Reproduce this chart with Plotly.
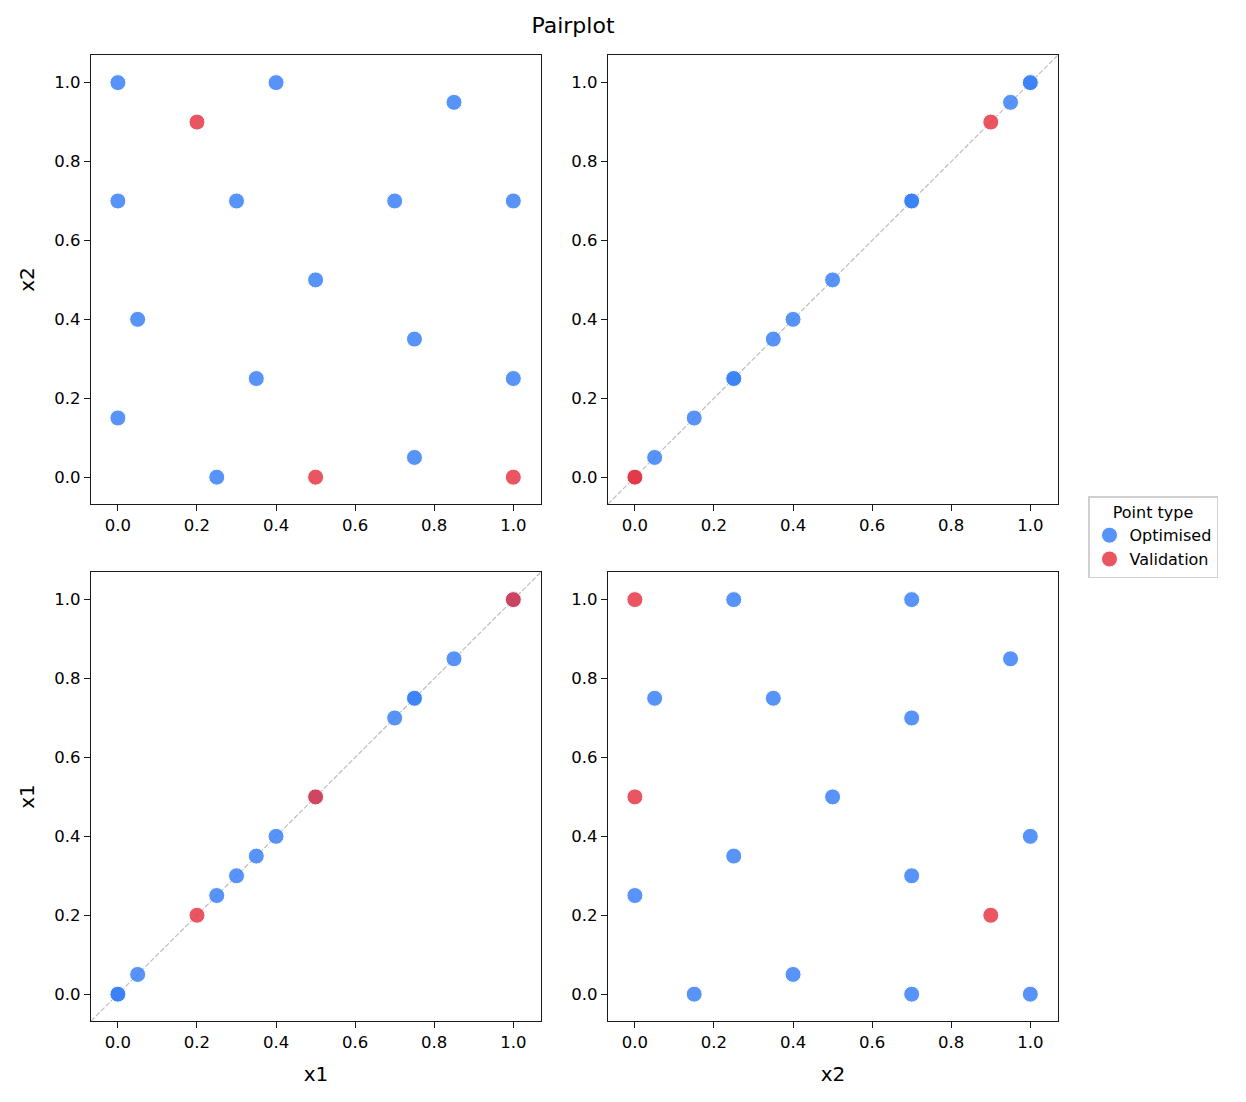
import plotly.graph_objects as go

# Data
opt_x1 = [0.0, 0.4, 0.85, 0.0, 0.3, 0.7, 1.0, 0.5, 0.05, 0.75, 0.35, 1.0, 0.0, 0.25, 0.75]
opt_x2 = [1.0, 1.0, 0.95, 0.7, 0.7, 0.7, 0.7, 0.5, 0.4, 0.35, 0.25, 0.25, 0.15, 0.0, 0.05]
val_x1 = [0.2, 0.5, 1.0]
val_x2 = [0.9, 0.0, 0.0]
tick_vals = [0.0, 0.2, 0.4, 0.6, 0.8, 1.0]

BLUE = "#3b82f6"
RED = "#e63946"
RNG = [-0.068, 1.07]
W, H = 1246, 1102
FONT = "DejaVu Sans"

def dom(a, b, total):
    return [a / total, b / total]

xd = [dom(91, 541, W), dom(608, 1058, W)]
yd = [[1 - 504 / H, 1 - 55 / H], [1 - 1021 / H, 1 - 572 / H]]

# panels: (row, col) -> (x var, y var)
panels = [
    (0, 0, "x1", "x2"),
    (0, 1, "x2", "x2"),
    (1, 0, "x1", "x1"),
    (1, 1, "x2", "x1"),
]
data = {"opt": {"x1": opt_x1, "x2": opt_x2}, "val": {"x1": val_x1, "x2": val_x2}}

fig = go.Figure()
layout = {}
for i, (r, c, xv, yv) in enumerate(panels):
    n = "" if i == 0 else str(i + 1)
    xa, ya = "x" + n, "y" + n
    axis_common = dict(
        range=RNG, showgrid=False, zeroline=False, showline=True, mirror=True,
        linecolor="#1a1a1a", linewidth=1.3, ticks="outside", ticklen=6, tickwidth=1.3,
        tickcolor="#1a1a1a", tickvals=tick_vals, tickformat=".1f",
        tickfont=dict(family=FONT, size=16.5, color="black"),
    )
    layout["xaxis" + n] = dict(axis_common, domain=xd[c], anchor=ya,
                               title=dict(text=xv if r == 1 else "", font=dict(family=FONT, size=20, color="black"), standoff=16))
    layout["yaxis" + n] = dict(axis_common, domain=yd[r], anchor=xa,
                               title=dict(text=yv if c == 0 else "", font=dict(family=FONT, size=20, color="black"), standoff=14))
    if xv == yv:
        fig.add_trace(go.Scatter(x=RNG, y=RNG, mode="lines", xaxis=xa, yaxis=ya,
                                 line=dict(color="#bdbdbd", width=1.2, dash="5px,2px"),
                                 showlegend=False, hoverinfo="skip"))
    for key, name, col in [("opt", "Optimised", BLUE), ("val", "Validation", RED)]:
        fig.add_trace(go.Scatter(
            x=data[key][xv], y=data[key][yv], mode="markers", xaxis=xa, yaxis=ya,
            name=name, showlegend=(i == 0),
            marker=dict(color=col, size=16, opacity=0.85, line=dict(color="white", width=1)),
        ))

fig.update_layout(
    **layout,
    width=W, height=H,
    margin=dict(l=0, r=0, t=0, b=0),
    paper_bgcolor="white", plot_bgcolor="white",
    title=dict(text="Pairplot", x=573 / W, xanchor="center", y=1 - 25 / H, yanchor="middle",
               font=dict(family=FONT, size=22, color="black")),
    legend=dict(
        x=1088 / W, y=1 - 496 / H, xanchor="left", yanchor="top",
        title=dict(text="Point type", side="top center", font=dict(family=FONT, size=16, color="black")),
        font=dict(family=FONT, size=16, color="black"),
        bordercolor="#d0d0d0", borderwidth=1.5, bgcolor="white",
        tracegroupgap=0, itemsizing="trace",
    ),
    showlegend=True,
)

fig.write_html("out.html")
